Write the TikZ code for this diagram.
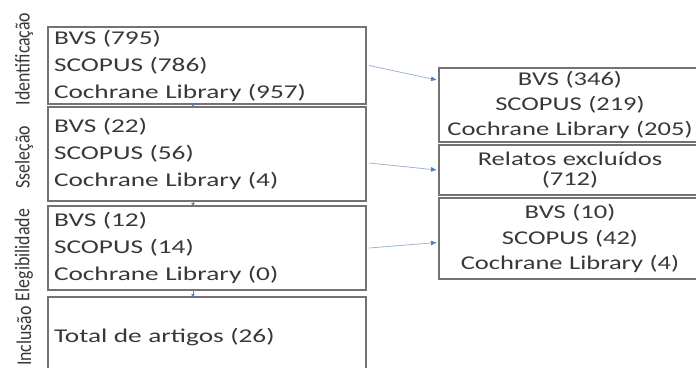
\documentclass[tikz,border=0pt]{standalone}
\usepackage{fontspec}
\usepackage{tikz}
\usetikzlibrary{calc,arrows.meta}
\newfontfamily\caixafont[FakeStretch=1.4]{Carlito}
\newfontfamily\exclfont[FakeStretch=1.36]{Carlito}
\newfontfamily\etapafont[FakeStretch=0.85]{Carlito}
\definecolor{textocinza}{HTML}{383838}
\definecolor{bordacinza}{HTML}{737373}
\definecolor{setaazul}{HTML}{4F81BD}
\definecolor{linhaazul}{HTML}{9DB5D3}

\begin{document}
\begin{tikzpicture}[x=1pt,y=-1pt,
    caixa/.style={draw=bordacinza,line width=1.5pt,text=textocinza,anchor=north west,
        inner xsep=6pt,inner ysep=0pt,outer sep=0pt,minimum width=318pt,
        text width=306pt,align=left,font=\caixafont\fontsize{19.5}{27}\selectfont},
    excluido/.style={caixa,minimum width=262pt,text width=250pt,align=center,
        font=\exclfont\fontsize{19.5}{25}\selectfont},
    etapa/.style={rotate=90,text=textocinza,font=\etapafont\fontsize{21}{21}\selectfont},
    seta/.style={draw=linhaazul,line width=0.8pt,-{Latex[length=6pt,width=5pt,fill=setaazul,color=setaazul]}},
    setav/.style={draw=setaazul,line width=0.8pt,-{Latex[length=3pt,width=4pt]}}]
            \useasboundingbox (0,0) rectangle (696,367);
            \clip (0,0) rectangle (696,367);

            % etapas
            \node[caixa,minimum height=77pt] (b1) at (48,27) {BVS (795)\\SCOPUS (786)\\Cochrane Library (957)};
            \node[caixa,minimum height=94pt] (b2) at (48,107) {BVS (22)\\SCOPUS (56)\\Cochrane Library (4)};
            \node[caixa,minimum height=84pt] (b3) at (48,206) {BVS (12)\\SCOPUS (14)\\Cochrane Library (0)};
            \node[caixa,minimum height=80pt] (b4) at (48,297) {Total de artigos (26)};

            % excluidos
            \node[excluido,minimum height=74pt] (r1) at (439,68) {BVS (346)\\SCOPUS (219)\\Cochrane Library (205)};
            \node[excluido,minimum height=50pt,font=\exclfont\fontsize{19.5}{20}\selectfont] (r2) at (439,145) {Relatos excluídos\\(712)};
            \node[excluido,minimum height=81pt,font=\exclfont\fontsize{19.5}{25.5}\selectfont] (r3) at (439,198) {BVS (10)\\SCOPUS (42)\\Cochrane Library (4)};

            \node[etapa] (e1) at (24,59) {Identificação};
            \node[etapa] (e2) at (24,157) {Sseleção};
            \node[etapa] (e3) at (24,255) {Elegibilidade};
            \node[etapa] (e4) at (24,336) {Inclusão};

            \draw[seta] ([xshift=3pt]b1.east) -- ([xshift=-2pt,yshift=25pt]r1.west);
            \draw[seta] ([xshift=3pt,yshift=-9pt]b2.east) -- ([xshift=-2pt]r2.west);
            \draw[seta] ([xshift=3pt]b3.east) -- ([xshift=-2pt,yshift=-4pt]r3.west);

            \draw[setav] ([xshift=-14pt]b1.south) -- ([xshift=-14pt]b2.north);
            \draw[setav] ([xshift=-14pt]b2.south) -- ([xshift=-14pt]b3.north);
            \draw[setav] ([xshift=-14pt]b3.south) -- ([xshift=-14pt]b4.north);
        \end{tikzpicture}
\end{document}
